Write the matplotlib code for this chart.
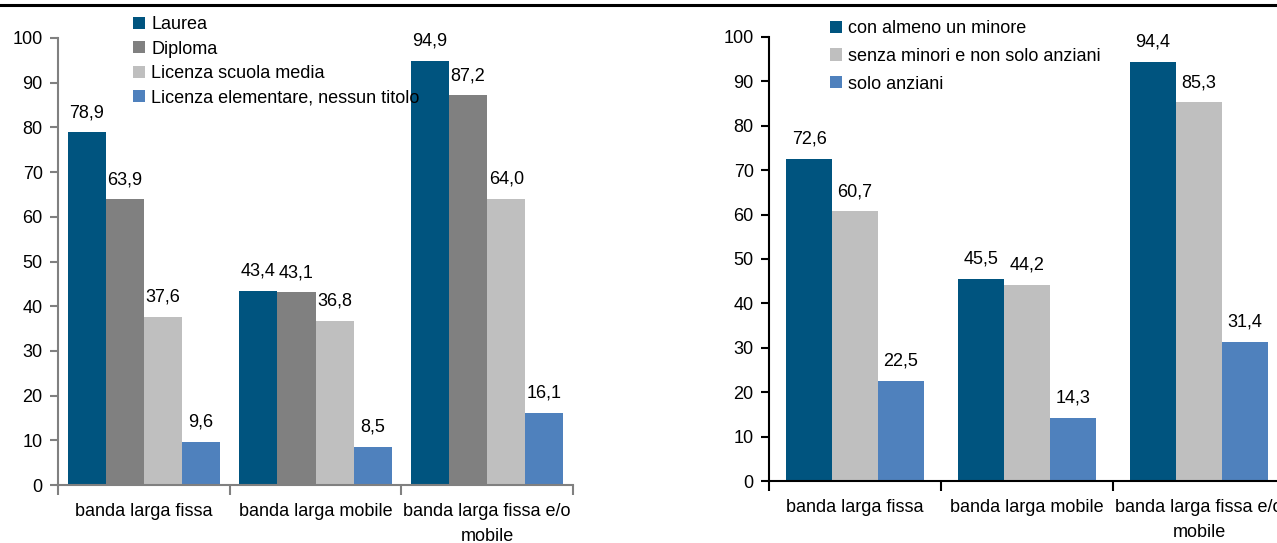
import matplotlib.pyplot as plt
import numpy as np
from matplotlib.lines import Line2D

plt.rcParams['font.family'] = ['Liberation Sans', 'DejaVu Sans']

categorie = ['banda larga fissa', 'banda larga mobile', 'banda larga fissa e/o\nmobile']

# titolo di studio
titoli = ['Laurea', 'Diploma', 'Licenza scuola media', 'Licenza elementare, nessun titolo']
laurea = [78.9, 43.4, 94.9]
diploma = [63.9, 43.1, 87.2]
media = [37.6, 36.8, 64.0]
elementare = [9.6, 8.5, 16.1]
colori_sx = ['#00547F', '#808080', '#BFBFBF', '#4F81BD']

# tipologia familiare
famiglie = ['con almeno un minore', 'senza minori e non solo anziani', 'solo anziani']
con_minore = [72.6, 45.5, 94.4]
senza_minori = [60.7, 44.2, 85.3]
solo_anziani = [22.5, 14.3, 31.4]
colori_dx = ['#00547F', '#BFBFBF', '#4F81BD']

W, H = 1277, 543
fs = 13
fig = plt.figure(figsize=(W / 100, H / 100), dpi=100)

def virgola(v):
    return f'{v:.1f}'.replace('.', ',')

def grafico(ax, serie, nomi, colori, larg, spine_col):
    x = np.arange(len(categorie))
    n = len(serie)
    for i, (vals, nome, col) in enumerate(zip(serie, nomi, colori)):
        pos = x + (i - (n - 1) / 2) * larg
        bars = ax.bar(pos, vals, larg, color=col, label=nome, zorder=2)
        ax.bar_label(bars, labels=[virgola(v) for v in vals], padding=8, fontsize=fs)
    ax.set_xlim(-0.5, len(categorie) - 0.5)
    ax.set_ylim(0, 100)
    ax.set_yticks(range(0, 101, 10))
    ax.set_xticks(x)
    ax.set_xticklabels(categorie, fontsize=fs, linespacing=1.6)
    ax.set_xticks(np.arange(len(categorie) + 1) - 0.5, minor=True)
    ax.tick_params(axis='x', which='major', length=0, pad=13)
    ax.tick_params(axis='x', which='minor', length=7, color=spine_col, width=1.5)
    ax.tick_params(axis='y', length=6, color=spine_col, width=1.5, labelsize=fs, pad=5)
    for s in ['top', 'right']:
        ax.spines[s].set_visible(False)
    for s in ['left', 'bottom']:
        ax.spines[s].set_color(spine_col)
        ax.spines[s].set_linewidth(1.5)

ax1 = fig.add_axes([58 / W, 1 - 485 / H, 515 / W, 447 / H])
grafico(ax1, [laurea, diploma, media, elementare], titoli, colori_sx, 0.222, '#808080')
ax1.legend(loc='upper left', bbox_to_anchor=(133 / W, 1 - 16 / H), bbox_transform=fig.transFigure,
           frameon=False, fontsize=fs, handlelength=0.65, handleheight=0.65, handletextpad=0.35,
           labelspacing=0.42, borderpad=0, borderaxespad=0)

ax2 = fig.add_axes([769 / W, 1 - 481 / H, 516 / W, 444 / H])
grafico(ax2, [con_minore, senza_minori, solo_anziani], famiglie, colori_dx, 0.267, '#000000')
ax2.legend(loc='upper left', bbox_to_anchor=(830 / W, 1 - 20 / H), bbox_transform=fig.transFigure,
           frameon=False, fontsize=fs, handlelength=0.65, handleheight=0.65, handletextpad=0.35,
           labelspacing=0.6, borderpad=0, borderaxespad=0)

# filetto in alto
fig.add_artist(Line2D([0, 1], [1 - 5 / H, 1 - 5 / H], color='black', lw=2.2, transform=fig.transFigure))

fig.savefig('out.png', dpi=100)
